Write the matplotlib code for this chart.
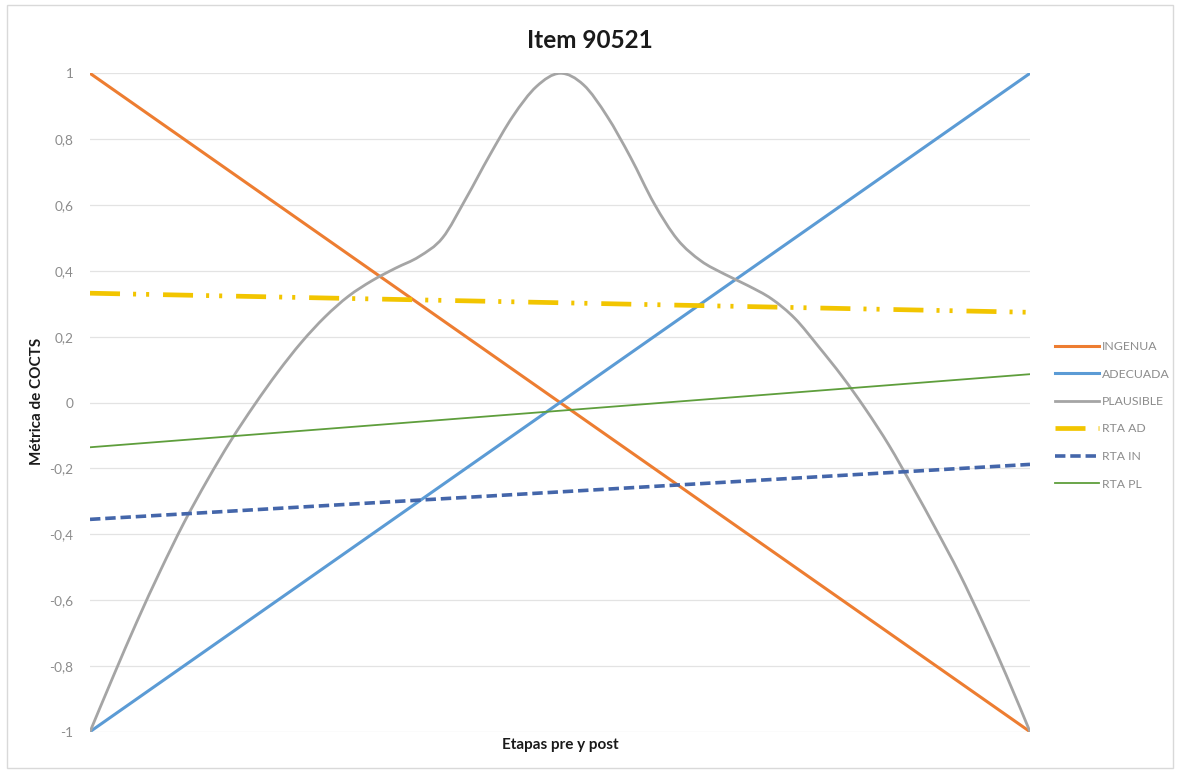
import matplotlib
matplotlib.use("Agg")
import matplotlib.pyplot as plt
from matplotlib.path import Path
from matplotlib.patches import PathPatch, Rectangle
from matplotlib.lines import Line2D
import numpy as np

plt.rcParams['font.family'] = ['Lato', 'DejaVu Sans']
plt.rcParams['lines.scale_dashes'] = False

# Stage positions (pre = 0, post = 1)
stages = [0.0, 1.0]

# Straight series: value at pre and at post
ingenua = [1.0, -1.0]
adecuada = [-1.0, 1.0]
rta_ad = [0.332, 0.274]
rta_in = [-0.355, -0.188]
rta_pl = [-0.136, 0.086]

# PLAUSIBLE curve (smoothed line through these points)
plausible_x = [0.0, 0.025, 0.05, 0.075, 0.10, 0.125, 0.15, 0.175, 0.20, 0.225,
               0.25, 0.275, 0.30, 0.325, 0.35, 0.375, 0.40, 0.425, 0.45, 0.475,
               0.50, 0.525, 0.55, 0.575, 0.60, 0.625, 0.65, 0.675, 0.70, 0.725,
               0.75, 0.775, 0.80, 0.825, 0.85, 0.875, 0.90, 0.925, 0.95, 0.975,
               1.0]
plausible_y = [-1.0, -0.83, -0.665, -0.51, -0.365, -0.235, -0.115, -0.007, 0.093, 0.183,
               0.26, 0.323, 0.37, 0.408, 0.443, 0.50, 0.62, 0.75, 0.87, 0.96,
               1.0, 0.965, 0.87, 0.745, 0.605, 0.495, 0.43, 0.39, 0.355, 0.315,
               0.255, 0.17, 0.08, -0.02, -0.13, -0.255, -0.385, -0.52, -0.67, -0.83,
               -1.0]

y_ticks = [-1.0, -0.8, -0.6, -0.4, -0.2, 0.0, 0.2, 0.4, 0.6, 0.8, 1.0]
y_tick_labels = ['-1', '-0,8', '-0,6', '-0,4', '-0,2', '0', '0,2', '0,4', '0,6', '0,8', '1']

series_labels = ['INGENUA', 'ADECUADA', 'PLAUSIBLE', 'RTA AD', 'RTA IN', 'RTA PL']

C_ING = '#ED7D31'
C_ADE = '#5B9BD5'
C_PLA = '#A5A5A5'
C_RAD = '#F2C500'
C_RIN = '#4466AA'
C_RPL = '#5E9E3C'

W, H = 1184, 771
fig = plt.figure(figsize=(W / 100, H / 100), dpi=100)
fig.patch.set_facecolor('white')

# outer chart border
fig.patches.append(Rectangle((7 / W, 3 / H), 1166 / W, 763 / H, transform=fig.transFigure,
                             fill=False, edgecolor='#d9d9d9', linewidth=1.0))

top_px, bot_px, left_px, right_px = 73.3, 731.7, 90, 1030
ax = fig.add_axes([left_px / W, 1 - bot_px / H, (right_px - left_px) / W, (bot_px - top_px) / H])
ax.set_xlim(0, 1)
ax.set_ylim(-1, 1)
for s in ax.spines.values():
    s.set_visible(False)
ax.set_xticks([])
ax.set_yticks(y_ticks)
ax.set_yticklabels(y_tick_labels, color='#8c8c8c', fontsize=9.8)
ax.tick_params(axis='y', length=0, pad=12)
ax.grid(axis='y', color='#e3e3e3', linewidth=0.9)
ax.set_axisbelow(True)


def smooth_path(xs, ys):
    pts = np.column_stack([xs, ys])
    n = len(pts)
    verts = [pts[0]]
    codes = [Path.MOVETO]
    for i in range(n - 1):
        p0 = pts[i - 1] if i > 0 else pts[i]
        p1 = pts[i]
        p2 = pts[i + 1]
        p3 = pts[i + 2] if i + 2 < n else pts[i + 1]
        c1 = p1 + (p2 - p0) / 6.0
        c2 = p2 - (p3 - p1) / 6.0
        verts += [c1, c2, p2]
        codes += [Path.CURVE4] * 3
    return Path(verts, codes)


ax.plot(stages, ingenua, color=C_ING, lw=2.2, solid_capstyle='round', zorder=3)
ax.plot(stages, adecuada, color=C_ADE, lw=2.2, solid_capstyle='round', zorder=3)
ax.add_patch(PathPatch(smooth_path(plausible_x, plausible_y), fill=False,
                       edgecolor=C_PLA, lw=2.0, zorder=3))
dash_ad = (0, (21.6, 9.4, 2.2, 7.2, 2.2, 10.0))
dash_in = (0, (7.5, 3.5))
ax.plot(stages, rta_ad, color=C_RAD, lw=3.4, linestyle=dash_ad, zorder=3)
ax.plot(stages, rta_in, color=C_RIN, lw=2.6, linestyle=dash_in, zorder=3)
ax.plot(stages, rta_pl, color=C_RPL, lw=1.3, zorder=3)

handles = [
    Line2D([], [], color=C_ING, lw=2.2),
    Line2D([], [], color=C_ADE, lw=2.2),
    Line2D([], [], color=C_PLA, lw=2.0),
    Line2D([], [], color=C_RAD, lw=3.4, linestyle=dash_ad),
    Line2D([], [], color=C_RIN, lw=2.6, linestyle=dash_in),
    Line2D([], [], color=C_RPL, lw=1.3),
]
leg = fig.legend(handles, series_labels, loc='upper left',
                 bbox_to_anchor=(1055 / W, 1 - 341 / H), frameon=False,
                 fontsize=8.8, handlelength=3.6, handletextpad=0.25,
                 labelspacing=1.35, borderpad=0, borderaxespad=0)
for t in leg.get_texts():
    t.set_color('#8c8c8c')

fig.text(590 / W, 1 - 40 / H, 'Item 90521', ha='center', va='center',
         fontsize=17.5, fontweight='bold', color='#1a1a1a')
fig.text(560 / W, 1 - 745 / H, 'Etapas pre y post', ha='center', va='center',
         fontsize=11, fontweight='bold', color='#1a1a1a')
fig.text(37 / W, 1 - 401 / H, 'Métrica de COCTS', ha='center', va='center',
         rotation=90, fontsize=11, fontweight='bold', color='#1a1a1a')

fig.savefig('out.png', dpi=100)
